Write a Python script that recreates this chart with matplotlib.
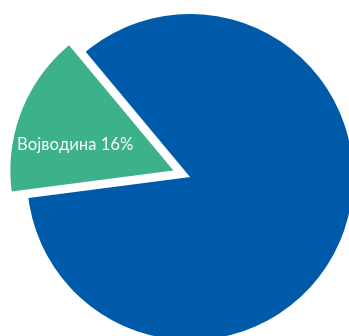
import matplotlib
matplotlib.use("Agg")
import matplotlib.pyplot as plt
import numpy as np

# share of the total, blue slice first then the green one
regions = ['', 'Војводина']
shares = [84, 16]
colors = ['#005AAA', '#3DB28A']
explode = [0, 0.11]

fig = plt.figure(figsize=(3.49, 3.36), dpi=100)
ax = fig.add_axes([0, 0, 1, 1])

wedges, _ = ax.pie(shares, colors=colors, explode=explode, startangle=187.4,
                   wedgeprops={'linewidth': 0})

# label only the green slice, white text inside it
w = wedges[1]
mid = np.deg2rad((w.theta1 + w.theta2) / 2 + 7)
cx, cy = w.center
ax.text(cx + 0.62 * np.cos(mid), cy + 0.62 * np.sin(mid),
        f'{regions[1]} {shares[1]}%', color='white', fontsize=12,
        family=['Lato', 'DejaVu Sans'], ha='center', va='center')

# pie is cropped on the right and bottom in the original
ax.set_xlim(-1.166, 0.975)
ax.set_ylim(-0.975, 1.086)
ax.set_aspect('auto')
ax.axis('off')

fig.savefig('out.png', dpi=100)
